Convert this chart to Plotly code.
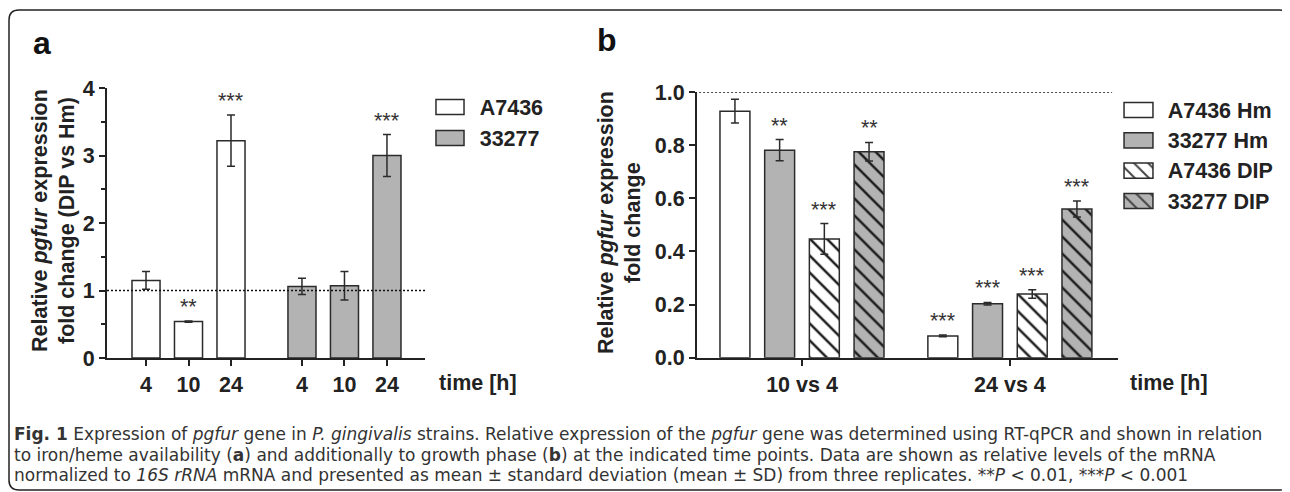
import plotly.graph_objects as go

W, H = 1290, 492
OFF = 8  # the page places the figure 8 px from the window's top-left corner


def px(x):
    return (x - OFF) / W


def py(y):
    return 1 - (y - OFF) / H


# ---------------- data: panel a ----------------
a_times = ["4", "10", "24"]
a_strains = ["A7436", "33277"]
a_A7436 = [1.15, 0.54, 3.22]
a_A7436_sd = [0.13, 0.01, 0.38]
a_33277 = [1.06, 1.07, 3.00]
a_33277_sd = [0.12, 0.21, 0.31]
a_A7436_stars = ["", "**", "***"]
a_33277_stars = ["", "", "***"]

# ---------------- data: panel b ----------------
b_groups = ["10 vs 4", "24 vs 4"]
b_series = ["A7436 Hm", "33277 Hm", "A7436 DIP", "33277 DIP"]
b_A7436_Hm = [0.928, 0.082]
b_A7436_Hm_sd = [0.045, 0.003]
b_33277_Hm = [0.781, 0.203]
b_33277_Hm_sd = [0.040, 0.005]
b_A7436_DIP = [0.447, 0.240]
b_A7436_DIP_sd = [0.058, 0.016]
b_33277_DIP = [0.775, 0.560]
b_33277_DIP_sd = [0.035, 0.030]
b_A7436_Hm_stars = ["", "***"]
b_33277_Hm_stars = ["**", "***"]
b_A7436_DIP_stars = ["***", "***"]
b_33277_DIP_stars = ["**", "***"]

# ---------------- styles ----------------
WHITE = "#ffffff"
GRAY = "#b3b3b3"
EDGE = "#2b2b2b"
AX = "#222222"
STAR = "#333333"
HATCH = "#1a1a1a"
FONT = "Liberation Sans, Arial, sans-serif"
FS = 21.5
GROUP_GAP = 0.67  # extra gap between strain groups in panel a (category units)
BARGAP = 0.14
BARGROUPGAP = 0.33

fig = go.Figure()
annotations = []

# ---------------- panel a bars ----------------
a_sets = [
    (a_strains[0], a_A7436, a_A7436_sd, a_A7436_stars, WHITE),
    (a_strains[1], a_33277, a_33277_sd, a_33277_stars, GRAY),
]
a_tickvals, a_ticktext = [], []
for g, (name, vals, sds, stars, col) in enumerate(a_sets):
    xs = [i + g * (len(a_times) + GROUP_GAP) for i in range(len(a_times))]
    a_tickvals += xs
    a_ticktext += a_times
    fig.add_trace(go.Bar(
        x=xs, y=vals, name=name, width=0.66, offset=-0.33,
        marker=dict(color=col, line=dict(color=EDGE, width=1.5)),
        error_y=dict(type="data", array=sds, color=EDGE, thickness=1.5, width=4),
        xaxis="x", yaxis="y", showlegend=False,
    ))
    for x, v, s, t in zip(xs, vals, sds, stars):
        if t:
            annotations.append(dict(
                x=x, y=v + s, xref="x", yref="y", text=t, showarrow=False,
                yanchor="bottom", yshift=0,
                font=dict(family=FONT, size=FS, color=STAR),
            ))

# ---------------- panel b bars ----------------
b_sets = [
    (b_series[0], b_A7436_Hm, b_A7436_Hm_sd, b_A7436_Hm_stars, WHITE, ""),
    (b_series[1], b_33277_Hm, b_33277_Hm_sd, b_33277_Hm_stars, GRAY, ""),
    (b_series[2], b_A7436_DIP, b_A7436_DIP_sd, b_A7436_DIP_stars, WHITE, "\\"),
    (b_series[3], b_33277_DIP, b_33277_DIP_sd, b_33277_DIP_stars, GRAY, "\\"),
]
nser = len(b_sets)
slot = (1 - BARGAP) / nser
for k, (name, vals, sds, stars, col, pat) in enumerate(b_sets):
    fig.add_trace(go.Bar(
        x=b_groups, y=vals, name=name,
        marker=dict(color=col, line=dict(color=EDGE, width=1.5),
                    pattern=dict(shape=pat, fillmode="overlay", fgcolor=HATCH,
                                 fgopacity=1, size=12, solidity=0.2)),
        error_y=dict(type="data", array=sds, color=EDGE, thickness=1.5, width=4),
        xaxis="x2", yaxis="y2", showlegend=False,
    ))
    for gi, (v, s, t) in enumerate(zip(vals, sds, stars)):
        if t:
            annotations.append(dict(
                x=gi + (k - (nser - 1) / 2) * slot, y=v + s, xref="x2", yref="y2",
                text=t, showarrow=False, yanchor="bottom", yshift=0,
                font=dict(family=FONT, size=FS, color=STAR),
            ))

# ---------------- legend swatches (drawn as small bar charts) ----------------
fig.add_trace(go.Bar(
    orientation="h", y=a_strains, x=[1] * len(a_strains), width=0.48, offset=-0.24,
    marker=dict(color=[WHITE, GRAY], line=dict(color=EDGE, width=1.5)),
    xaxis="x3", yaxis="y3", showlegend=False, hoverinfo="skip",
))
fig.add_trace(go.Bar(
    orientation="h", y=b_series, x=[1] * len(b_series), width=0.5, offset=-0.25,
    marker=dict(color=[s[4] for s in b_sets], line=dict(color=EDGE, width=1.5),
                pattern=dict(shape=[s[5] for s in b_sets], fillmode="overlay",
                             fgcolor=HATCH, fgopacity=1, size=10, solidity=0.2)),
    xaxis="x4", yaxis="y4", showlegend=False, hoverinfo="skip",
))

tickfont = dict(family=FONT, size=FS, color=AX, weight="bold")
axis_common = dict(showline=True, linecolor=AX, linewidth=2, ticks="outside",
                   ticklen=6, tickwidth=2, tickcolor=AX, showgrid=False,
                   zeroline=False, tickfont=tickfont, fixedrange=True, automargin=False)


# ---------------- text annotations ----------------
def txt(x, y, text, size=FS, bold=True, angle=0, xanchor="center", color=AX, family=FONT):
    annotations.append(dict(
        x=x, y=y, xref="paper", yref="paper", text=text, showarrow=False,
        xanchor=xanchor, yanchor="middle", textangle=angle,
        font=dict(family=family, size=size, color=color,
                  weight="bold" if bold else "normal"),
    ))


txt(px(40), py(221), "Relative <i>pgfur</i> expression", angle=-90)
txt(px(67), py(221), "fold change (DIP vs Hm)", angle=-90)
txt(px(606), py(223), "Relative <i>pgfur</i> expression", angle=-90)
txt(px(633), py(223), "fold change", angle=-90)
txt(px(437), py(383), "time [h]", xanchor="left")
txt(px(1128), py(383), "time [h]", xanchor="left")
txt(px(31), py(43), "a", size=32, xanchor="left", color="#111")
txt(px(595), py(40), "b", size=32, xanchor="left", color="#111")

CAP = "DejaVu Sans, sans-serif"
cap_lines = [
    "<b>Fig. 1</b> Expression of <i>pgfur</i> gene in <i>P. gingivalis</i> strains. Relative expression of the <i>pgfur</i> gene was determined using RT-qPCR and shown in relation",
    "to iron/heme availability (<b>a</b>) and additionally to growth phase (<b>b</b>) at the indicated time points. Data are shown as relative levels of the mRNA",
    "normalized to <i>16S rRNA</i> mRNA and presented as mean ± standard deviation (mean ± SD) from three replicates. **<i>P</i> &lt; 0.01, ***<i>P</i> &lt; 0.001",
]
for i, line in enumerate(cap_lines):
    txt(px(12), py(434 + 20.5 * i), line, size=17, bold=False, xanchor="left",
        color="#333333", family=CAP)

# ---------------- shapes ----------------
x0, y0, x1, y1, r = px(OFF + 1), py(10), px(1289), py(490), 10
rx, ry = r / W, r / H
frame = (f"M {x0} {y0 - ry} Q {x0} {y0} {x0 + rx} {y0} "
         f"L {x1 - rx} {y0} Q {x1} {y0} {x1} {y0 - ry} "
         f"L {x1} {y1 + ry} Q {x1} {y1} {x1 - rx} {y1} "
         f"L {x0 + rx} {y1} Q {x0} {y1} {x0} {y1 + ry} Z")
shapes = [
    dict(type="path", path=frame, xref="paper", yref="paper",
         line=dict(color="#222", width=1.5), layer="below"),
    dict(type="line", xref="x domain", yref="y", x0=0, x1=1, y0=1, y1=1,
         line=dict(color="#111", width=1.4, dash="2px,2px"), layer="above"),
    dict(type="line", xref="x2 domain", yref="y2", x0=0.005, x1=0.986, y0=1, y1=1,
         line=dict(color="#111", width=1.4, dash="2px,2px"), layer="above"),
]

fig.update_layout(
    width=W, height=H, margin=dict(l=0, r=0, t=0, b=0, pad=0, autoexpand=False),
    paper_bgcolor="white", plot_bgcolor="rgba(0,0,0,0)",
    barmode="group", bargap=BARGAP, bargroupgap=BARGROUPGAP,
    showlegend=False, annotations=annotations, shapes=shapes,
    font=dict(family=FONT),
    xaxis=dict(domain=[px(107), px(425)], range=[-0.918, 6.565], anchor="y",
               tickvals=a_tickvals, ticktext=a_ticktext, **axis_common),
    yaxis=dict(domain=[py(358), py(88)], range=[0, 4], anchor="x", dtick=1,
               minor=dict(ticks="outside", ticklen=4, tickwidth=2, tickcolor=AX,
                          dtick=0.5, tick0=0), **axis_common),
    xaxis2=dict(domain=[px(697), px(1118)], type="category", range=[-0.505, 1.52],
                anchor="y2", **axis_common),
    yaxis2=dict(domain=[py(357.7), py(92)], range=[0, 1], anchor="x2", dtick=0.2,
                tickformat=".1f", **axis_common),
    xaxis3=dict(domain=[px(434.3), px(465.7)], range=[-0.06, 1.06], anchor="y3",
                visible=False, fixedrange=True, automargin=False),
    yaxis3=dict(domain=[py(153.5), py(91.5)], type="category", range=[1.5, -0.5],
                anchor="x3", side="right", showline=False, ticks="", showgrid=False,
                zeroline=False, tickfont=tickfont, ticklabelstandoff=13,
                fixedrange=True, automargin=False),
    xaxis4=dict(domain=[px(1122.3), px(1154.7)], range=[-0.06, 1.06], anchor="y4",
                visible=False, fixedrange=True, automargin=False),
    yaxis4=dict(domain=[py(216.2), py(94.8)], type="category", range=[3.5, -0.5],
                anchor="x4", side="right", showline=False, ticks="", showgrid=False,
                zeroline=False, tickfont=tickfont, ticklabelstandoff=12,
                fixedrange=True, automargin=False),
)

fig.write_html("out.html")
